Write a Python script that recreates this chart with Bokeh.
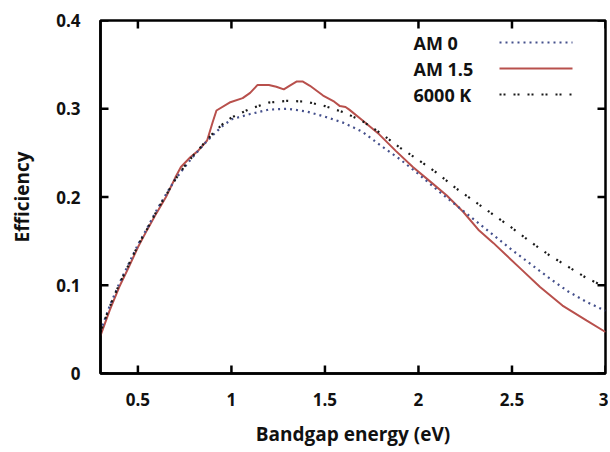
from bokeh.plotting import figure
from bokeh.models import FixedTicker, Range1d, Label, Arrow
from bokeh.embed import file_html
from bokeh.resources import INLINE

# ---- data ----
am15_x = [0.30, 0.35, 0.40, 0.45, 0.50, 0.55, 0.60, 0.65, 0.70, 0.73, 0.78, 0.82, 0.87,
          0.90, 0.92, 0.99, 1.06, 1.10, 1.14, 1.20, 1.24, 1.28, 1.31, 1.35, 1.38, 1.42,
          1.49, 1.55, 1.58, 1.61, 1.63, 1.70, 1.79, 1.88, 1.97, 2.06, 2.15, 2.24, 2.32,
          2.40, 2.55, 2.65, 2.77, 2.90, 3.00]
am15_y = [0.043, 0.072, 0.098, 0.120, 0.143, 0.163, 0.182, 0.200, 0.222, 0.234, 0.245, 0.252, 0.264,
          0.285, 0.298, 0.307, 0.312, 0.318, 0.327, 0.327, 0.325, 0.322, 0.326, 0.331, 0.331, 0.326,
          0.315, 0.308, 0.303, 0.302, 0.299, 0.287, 0.271, 0.252, 0.234, 0.218, 0.202, 0.183, 0.163,
          0.148, 0.118, 0.098, 0.077, 0.060, 0.047]

am0_x = [0.30, 0.35, 0.40, 0.45, 0.50, 0.55, 0.60, 0.65, 0.70, 0.75, 0.80, 0.85, 0.90, 0.95,
         1.00, 1.10, 1.20, 1.30, 1.40, 1.50, 1.60, 1.70, 1.80, 1.90, 2.00, 2.10, 2.20, 2.30,
         2.40, 2.50, 2.60, 2.70, 2.80, 2.90, 3.00]
am0_y = [0.048, 0.077, 0.102, 0.124, 0.146, 0.165, 0.185, 0.203, 0.220, 0.234, 0.247, 0.259, 0.270, 0.280,
         0.288, 0.294, 0.299, 0.300, 0.297, 0.291, 0.284, 0.274, 0.258, 0.243, 0.226, 0.208, 0.191, 0.174,
         0.157, 0.140, 0.124, 0.108, 0.093, 0.081, 0.071]

k6000_x = [0.30, 0.35, 0.40, 0.45, 0.50, 0.55, 0.60, 0.65, 0.70, 0.75, 0.80, 0.85, 0.90, 0.95,
           1.00, 1.10, 1.20, 1.30, 1.40, 1.50, 1.60, 1.70, 1.80, 1.90, 2.00, 2.10, 2.20, 2.30,
           2.40, 2.50, 2.60, 2.70, 2.80, 2.90, 3.00]
k6000_y = [0.047, 0.076, 0.101, 0.123, 0.145, 0.164, 0.184, 0.202, 0.220, 0.235, 0.248, 0.260, 0.272, 0.282,
           0.290, 0.300, 0.307, 0.309, 0.308, 0.303, 0.296, 0.286, 0.272, 0.256, 0.242, 0.227, 0.210, 0.195,
           0.180, 0.165, 0.149, 0.134, 0.121, 0.108, 0.098]

x_ticks = [0.5, 1, 1.5, 2, 2.5, 3]
x_tick_labels = {0.5: "0.5", 1: "1", 1.5: "1.5", 2: "2", 2.5: "2.5", 3: "3"}
y_ticks = [0, 0.1, 0.2, 0.3, 0.4]
y_tick_labels = {0: "0", 0.1: "0.1", 0.2: "0.2", 0.3: "0.3", 0.4: "0.4"}

series_names = ["AM 0", "AM 1.5", "6000 K"]

X_MIN, X_MAX = 0.3, 3.0
Y_MIN, Y_MAX = 0.0, 0.4

FONT = "Open Sans"
RED = "#b8504c"
BLUE = "#45508c"
BLACK = "#1a1a1a"

W, H = 608, 450
BL, BT, BR, BB = 100, 20, 3, 77
p = figure(width=W, height=H, output_backend="svg", toolbar_location=None,
           x_range=Range1d(X_MIN, X_MAX), y_range=Range1d(Y_MIN, Y_MAX),
           x_axis_label="Bandgap energy (eV)", y_axis_label="Efficiency")
p.min_border_left = BL
p.min_border_top = BT
p.min_border_right = BR
p.min_border_bottom = BB
p.grid.visible = False
p.outline_line_color = "black"
p.outline_line_width = 2.5
p.background_fill_color = "white"
p.border_fill_color = "white"

for ax in (p.xaxis[0], p.yaxis[0]):
    ax.major_tick_in = 0
    ax.major_tick_out = 0
    ax.minor_tick_in = 0
    ax.minor_tick_out = 0
    ax.axis_line_width = 2.5
    ax.major_label_text_font = FONT
    ax.major_label_text_font_style = "bold"
    ax.major_label_text_font_size = "17px"
    ax.major_label_text_color = "#111111"
    ax.axis_label_text_font = FONT
    ax.axis_label_text_font_style = "bold"
    ax.axis_label_text_font_size = "19px"
    ax.axis_label_text_color = "#111111"

p.xaxis[0].ticker = FixedTicker(ticks=x_ticks)
p.xaxis[0].major_label_overrides = x_tick_labels
p.xaxis[0].major_label_standoff = 19
p.xaxis[0].axis_label_standoff = 12
p.yaxis[0].ticker = FixedTicker(ticks=y_ticks)
p.yaxis[0].major_label_overrides = y_tick_labels
p.yaxis[0].major_label_standoff = 20
p.yaxis[0].axis_label_standoff = 18

# inward ticks on all four sides, 8 px long, converted to data units
TICK_PX = 8
frame_w = W - BL - BR
frame_h = H - BT - BB
tdx = (X_MAX - X_MIN) * TICK_PX / frame_w
tdy = (Y_MAX - Y_MIN) * TICK_PX / frame_h
nx, ny = len(x_ticks), len(y_ticks)
p.segment(x0=x_ticks, y0=[Y_MIN] * nx, x1=x_ticks, y1=[Y_MIN + tdy] * nx,
          line_color="black", line_width=2.5)
p.segment(x0=x_ticks, y0=[Y_MAX] * nx, x1=x_ticks, y1=[Y_MAX - tdy] * nx,
          line_color="black", line_width=2.5)
p.segment(x0=[X_MIN] * ny, y0=y_ticks, x1=[X_MIN + tdx] * ny, y1=y_ticks,
          line_color="black", line_width=2.5)
p.segment(x0=[X_MAX] * ny, y0=y_ticks, x1=[X_MAX - tdx] * ny, y1=y_ticks,
          line_color="black", line_width=2.5)

# curves
p.line(am15_x, am15_y, line_color=RED, line_width=2)
p.line(am0_x, am0_y, line_color=BLUE, line_width=2.2, line_dash="2 4")
p.line(k6000_x, k6000_y, line_color=BLACK, line_width=2.2, line_dash="2 2 2 8")

# legend (label then sample line); screen units are relative to the frame
# (x from the frame's left edge, y from the frame's bottom edge)
styles = [(BLUE, "2 4"), (RED, "solid"), (BLACK, "2 2 2 8")]
rows_y = [331, 305, 279]
for name, (col, dash), ry in zip(series_names, styles, rows_y):
    p.add_layout(Label(x=313, y=ry, x_units="screen", y_units="screen", text=name,
                       text_font=FONT, text_font_size="18px", text_font_style="bold",
                       text_color="#111111", text_baseline="middle", text_align="left"))
    p.add_layout(Arrow(x_start=399, y_start=ry, x_end=472, y_end=ry,
                       start_units="screen", end_units="screen", end=None, start=None,
                       line_color=col, line_width=2.2, line_dash=dash))

open("out.html", "w").write(file_html(p, INLINE))
